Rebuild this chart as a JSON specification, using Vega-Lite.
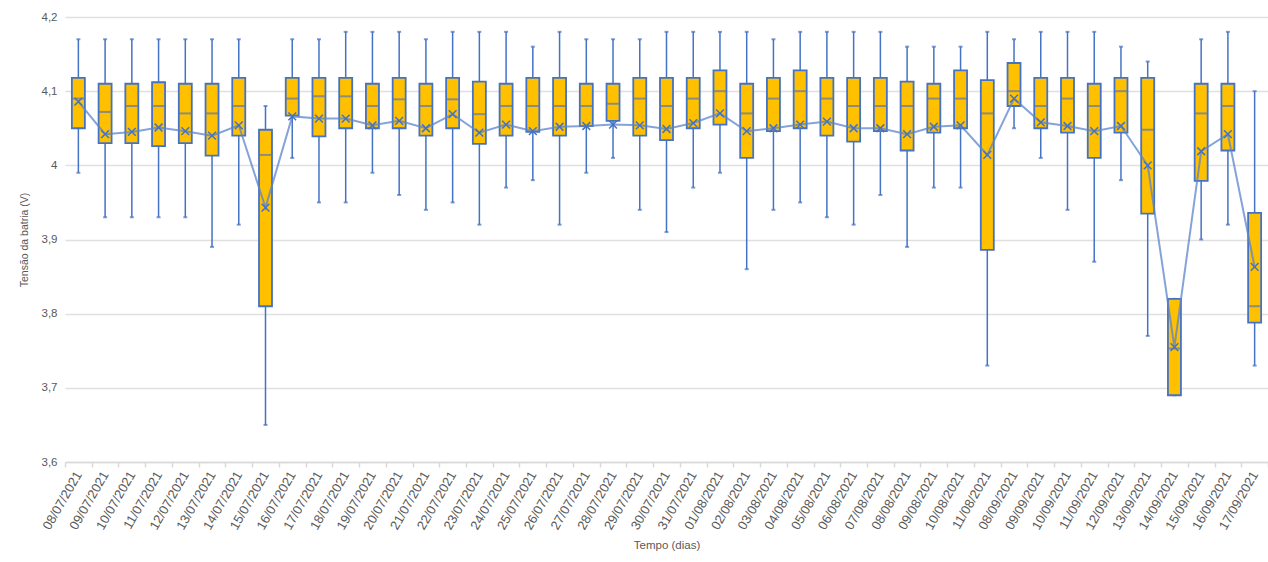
{
  "$schema": "https://vega.github.io/schema/vega-lite/v6.json",
  "width": 1203,
  "height": 445,
  "autosize": {"type": "none"},
  "padding": {"left": 65, "top": 17, "right": 0, "bottom": 100},
  "background": "white",
  "config": {
    "view": {"stroke": null},
    "font": "Liberation Sans",
    "axis": {"labelColor": "#595959", "titleColor": "#595959", "labelFont": "Liberation Sans", "titleFont": "Liberation Sans", "titleFontWeight": "normal"}
  },
  "data": {
    "values": [
      {"d": "08/07/2021", "mn": 3.99, "q1": 4.05, "med": 4.09, "q3": 4.118, "mx": 4.17, "mean": 4.086},
      {"d": "09/07/2021", "mn": 3.93, "q1": 4.03, "med": 4.072, "q3": 4.11, "mx": 4.17, "mean": 4.042},
      {"d": "10/07/2021", "mn": 3.93, "q1": 4.03, "med": 4.08, "q3": 4.11, "mx": 4.17, "mean": 4.045},
      {"d": "11/07/2021", "mn": 3.93, "q1": 4.026, "med": 4.08, "q3": 4.112, "mx": 4.17, "mean": 4.051},
      {"d": "12/07/2021", "mn": 3.93, "q1": 4.03, "med": 4.07, "q3": 4.11, "mx": 4.17, "mean": 4.046},
      {"d": "13/07/2021", "mn": 3.89, "q1": 4.013, "med": 4.07, "q3": 4.11, "mx": 4.17, "mean": 4.04},
      {"d": "14/07/2021", "mn": 3.92, "q1": 4.04, "med": 4.08, "q3": 4.118, "mx": 4.17, "mean": 4.054},
      {"d": "15/07/2021", "mn": 3.65, "q1": 3.81, "med": 4.014, "q3": 4.048, "mx": 4.08, "mean": 3.943},
      {"d": "16/07/2021", "mn": 4.01, "q1": 4.067, "med": 4.09, "q3": 4.118, "mx": 4.17, "mean": 4.066},
      {"d": "17/07/2021", "mn": 3.95, "q1": 4.039, "med": 4.093, "q3": 4.118, "mx": 4.17, "mean": 4.063},
      {"d": "18/07/2021", "mn": 3.95, "q1": 4.05, "med": 4.093, "q3": 4.118, "mx": 4.18, "mean": 4.063},
      {"d": "19/07/2021", "mn": 3.99, "q1": 4.05, "med": 4.08, "q3": 4.11, "mx": 4.18, "mean": 4.054},
      {"d": "20/07/2021", "mn": 3.96, "q1": 4.05, "med": 4.089, "q3": 4.118, "mx": 4.18, "mean": 4.06},
      {"d": "21/07/2021", "mn": 3.94, "q1": 4.04, "med": 4.08, "q3": 4.11, "mx": 4.17, "mean": 4.05},
      {"d": "22/07/2021", "mn": 3.95, "q1": 4.05, "med": 4.089, "q3": 4.118, "mx": 4.18, "mean": 4.069},
      {"d": "23/07/2021", "mn": 3.92, "q1": 4.029, "med": 4.069, "q3": 4.113, "mx": 4.18, "mean": 4.044},
      {"d": "24/07/2021", "mn": 3.97, "q1": 4.04, "med": 4.08, "q3": 4.11, "mx": 4.18, "mean": 4.055},
      {"d": "25/07/2021", "mn": 3.98, "q1": 4.045, "med": 4.08, "q3": 4.118, "mx": 4.16, "mean": 4.046},
      {"d": "26/07/2021", "mn": 3.92, "q1": 4.04, "med": 4.08, "q3": 4.118, "mx": 4.18, "mean": 4.052},
      {"d": "27/07/2021", "mn": 3.99, "q1": 4.053, "med": 4.08, "q3": 4.11, "mx": 4.17, "mean": 4.053},
      {"d": "28/07/2021", "mn": 4.01, "q1": 4.06, "med": 4.083, "q3": 4.11, "mx": 4.17, "mean": 4.055},
      {"d": "29/07/2021", "mn": 3.94, "q1": 4.04, "med": 4.09, "q3": 4.118, "mx": 4.17, "mean": 4.054},
      {"d": "30/07/2021", "mn": 3.91, "q1": 4.034, "med": 4.08, "q3": 4.118, "mx": 4.18, "mean": 4.049},
      {"d": "31/07/2021", "mn": 3.97, "q1": 4.05, "med": 4.09, "q3": 4.118, "mx": 4.18, "mean": 4.057},
      {"d": "01/08/2021", "mn": 3.99, "q1": 4.055, "med": 4.1, "q3": 4.128, "mx": 4.18, "mean": 4.07},
      {"d": "02/08/2021", "mn": 3.86, "q1": 4.01, "med": 4.07, "q3": 4.11, "mx": 4.18, "mean": 4.046},
      {"d": "03/08/2021", "mn": 3.94, "q1": 4.046, "med": 4.09, "q3": 4.118, "mx": 4.17, "mean": 4.05},
      {"d": "04/08/2021", "mn": 3.95, "q1": 4.05, "med": 4.1, "q3": 4.128, "mx": 4.18, "mean": 4.055},
      {"d": "05/08/2021", "mn": 3.93, "q1": 4.04, "med": 4.09, "q3": 4.118, "mx": 4.18, "mean": 4.059},
      {"d": "06/08/2021", "mn": 3.92, "q1": 4.032, "med": 4.08, "q3": 4.118, "mx": 4.18, "mean": 4.05},
      {"d": "07/08/2021", "mn": 3.96, "q1": 4.046, "med": 4.08, "q3": 4.118, "mx": 4.18, "mean": 4.05},
      {"d": "08/08/2021", "mn": 3.89, "q1": 4.02, "med": 4.08, "q3": 4.113, "mx": 4.16, "mean": 4.042},
      {"d": "09/08/2021", "mn": 3.97, "q1": 4.044, "med": 4.09, "q3": 4.11, "mx": 4.16, "mean": 4.052},
      {"d": "10/08/2021", "mn": 3.97, "q1": 4.05, "med": 4.09, "q3": 4.128, "mx": 4.16, "mean": 4.054},
      {"d": "11/08/2021", "mn": 3.73, "q1": 3.886, "med": 4.07, "q3": 4.115, "mx": 4.18, "mean": 4.014},
      {"d": "08/09/2021", "mn": 4.05, "q1": 4.08, "med": 4.1, "q3": 4.138, "mx": 4.17, "mean": 4.09},
      {"d": "09/09/2021", "mn": 4.01, "q1": 4.05, "med": 4.08, "q3": 4.118, "mx": 4.18, "mean": 4.058},
      {"d": "10/09/2021", "mn": 3.94, "q1": 4.044, "med": 4.09, "q3": 4.118, "mx": 4.18, "mean": 4.053},
      {"d": "11/09/2021", "mn": 3.87, "q1": 4.01, "med": 4.08, "q3": 4.11, "mx": 4.18, "mean": 4.046},
      {"d": "12/09/2021", "mn": 3.98, "q1": 4.044, "med": 4.1, "q3": 4.118, "mx": 4.16, "mean": 4.053},
      {"d": "13/09/2021", "mn": 3.77, "q1": 3.935, "med": 4.048, "q3": 4.118, "mx": 4.14, "mean": 4.0},
      {"d": "14/09/2021", "mn": 3.69, "q1": 3.69, "med": 3.753, "q3": 3.82, "mx": 3.82, "mean": 3.755},
      {"d": "15/09/2021", "mn": 3.9, "q1": 3.979, "med": 4.07, "q3": 4.11, "mx": 4.17, "mean": 4.019},
      {"d": "16/09/2021", "mn": 3.92, "q1": 4.02, "med": 4.08, "q3": 4.11, "mx": 4.18, "mean": 4.042},
      {"d": "17/09/2021", "mn": 3.73, "q1": 3.788, "med": 3.81, "q3": 3.936, "mx": 4.1, "mean": 3.863}
    ]
  },
  "encoding": {
    "x": {
      "field": "d", "type": "nominal", "sort": null,
      "scale": {"paddingInner": 0, "paddingOuter": 0},
      "axis": {
        "title": "Tempo (dias)", "labelAngle": -60, "labelFontSize": 13, "labelPadding": 5,
        "ticks": true, "tickBand": "extent", "tickSize": 5, "tickColor": "#D9D9D9", "tickWidth": 1.5,
        "domain": true, "domainColor": "#D9D9D9", "domainWidth": 1.5,
        "titleFontSize": 11.5, "titlePadding": 8, "labelOverlap": false
      }
    }
  },
  "layer": [
    {
      "mark": {"type": "rule", "color": "#4472C4", "strokeWidth": 1.5},
      "encoding": {
        "y": {
          "field": "mn", "type": "quantitative",
          "scale": {"domain": [3.6, 4.2], "nice": false, "zero": false},
          "axis": {
            "title": "Tensão da batria (V)", "values": [3.6, 3.7, 3.8, 3.9, 4.0, 4.1, 4.2],
            "labelExpr": "replace(format(datum.value, '.1~f'), '.', ',')",
            "grid": true, "gridColor": "#E0E0E0", "gridWidth": 1.5,
            "domain": false, "ticks": false, "labelPadding": 8, "labelFontSize": 11.5,
            "titleFontSize": 10.5, "titlePadding": 12
          }
        },
        "y2": {"field": "mx"}
      }
    },
    {
      "mark": {"type": "tick", "color": "#4472C4", "thickness": 2, "size": 4},
      "encoding": {"y": {"field": "mn", "type": "quantitative"}}
    },
    {
      "mark": {"type": "tick", "color": "#4472C4", "thickness": 2, "size": 4},
      "encoding": {"y": {"field": "mx", "type": "quantitative"}}
    },
    {
      "mark": {"type": "bar", "size": 13, "fill": "#FFC000", "stroke": "#4472C4", "strokeWidth": 1.8},
      "encoding": {
        "y": {"field": "q1", "type": "quantitative"},
        "y2": {"field": "q3"}
      }
    },
    {
      "mark": {"type": "tick", "color": "#5E78A8", "thickness": 2, "size": 13},
      "encoding": {"y": {"field": "med", "type": "quantitative"}}
    },
    {
      "mark": {"type": "line", "color": "#5B84CC", "strokeWidth": 2, "opacity": 0.75},
      "encoding": {"y": {"field": "mean", "type": "quantitative"}}
    },
    {
      "mark": {"type": "point", "shape": "M-1,-1L1,1M-1,1L1,-1", "size": 60, "stroke": "#4472C4", "strokeWidth": 1.5, "filled": false, "opacity": 1},
      "encoding": {"y": {"field": "mean", "type": "quantitative"}}
    }
  ]
}
